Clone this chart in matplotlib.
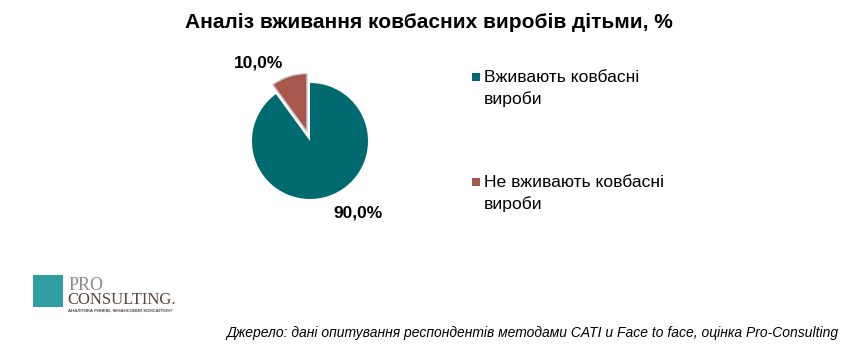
import matplotlib
matplotlib.use('Agg')
import matplotlib.pyplot as plt
from matplotlib.patches import Rectangle

plt.rcParams['font.family'] = ['Liberation Sans', 'DejaVu Sans']

# data
labels = ['Вживають ковбасні\nвироби', 'Не вживають ковбасні\nвироби']
values = [90.0, 10.0]
value_labels = ['90,0%', '10,0%']
colors = ['#006a71', '#a8574d']
title = 'Аналіз вживання ковбасних виробів дітьми, %'
source = 'Джерело: дані опитування респондентів методами CATI и Face to face, оцінка Pro-Consulting'

W, H = 858, 356
fig = plt.figure(figsize=(W / 100, H / 100), dpi=100)

# pie axes: centre (310, 141) px, radius 58 px
half = 110
ax = fig.add_axes([(310 - half) / W, (H - 141 - half) / H, 2 * half / W, 2 * half / H])
wedges, _ = ax.pie(values, colors=colors, startangle=90, counterclock=False,
                   explode=[0, 0.17], radius=1,
                   wedgeprops=dict(linewidth=0))
wedges[1].set_edgecolor('#c9c9c9')
wedges[1].set_linewidth(1.0)
ax.set_xlim(-half / 58, half / 58)
ax.set_ylim(-half / 58, half / 58)
ax.set_aspect('equal')
ax.axis('off')

# value labels
ax.text(0.83, -1.24, value_labels[0], ha='center', va='center', fontsize=12.5, fontweight='bold')
ax.text(-0.89, 1.34, value_labels[1], ha='center', va='center', fontsize=12.5, fontweight='bold')

fig.text(0.5, (H - 22) / H, title, ha='center', va='center', fontsize=15, fontweight='bold')

# legend, drawn by hand so the marker sits on the first line
leg_y = [77, 182]
for lab, col, y in zip(labels, colors, leg_y):
    fig.patches.append(Rectangle((472 / W, (H - y - 4) / H), 8 / W, 8 / H,
                                 transform=fig.transFigure, facecolor=col, edgecolor='none'))
    fig.text(484 / W, (H - y + 7) / H, lab, ha='left', va='top', fontsize=12.6, linespacing=1.45)

# logo
fig.patches.append(Rectangle((33 / W, (H - 307) / H), 30 / W, 32 / H,
                             transform=fig.transFigure, facecolor='#2f9ea5', edgecolor='none'))
fig.text(69 / W, (H - 285) / H, 'PRO', fontsize=13, color='#8a8a8a', va='center', family='Liberation Serif')
fig.text(67 / W, (H - 300) / H, 'CONSULTING.', fontsize=12, color='#5a4540', va='center', family='Liberation Serif')
fig.text(68 / W, (H - 310) / H, 'АНАЛІТИКА РИНКІВ, ФІНАНСОВИЙ КОНСАЛТИНГ', fontsize=3.2, color='#5a4540',
         va='center', fontweight='bold')

fig.text(838 / W, (H - 333) / H, source, ha='right', va='center', fontsize=10, style='italic')

fig.savefig('out.png', dpi=100, facecolor='white')
